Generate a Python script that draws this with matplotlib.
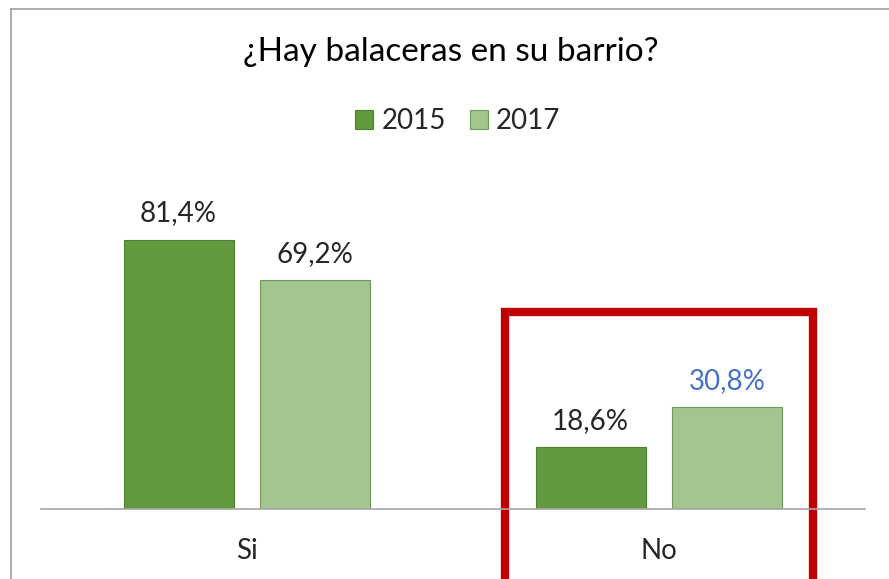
import matplotlib.pyplot as plt
from matplotlib.patches import Rectangle
from matplotlib.lines import Line2D
import numpy as np

# Datos del grafico
categorias = ["Si", "No"]
anios = ["2015", "2017"]
valores_2015 = [81.4, 18.6]
valores_2017 = [69.2, 30.8]

plt.rcParams['font.family'] = ['Lato', 'DejaVu Sans']

col_2015 = "#629A3E"
col_2017 = "#A4C490"
borde_2015 = "#4E7F30"
borde_2017 = "#6F9A56"
texto = "#262626"

fig = plt.figure(figsize=(8.89, 5.79), dpi=100)
ax = fig.add_axes([41 / 889, 70 / 579, 824 / 889, 331 / 579])

x = np.arange(len(categorias))
ancho = 0.267
desp = 0.166
b1 = ax.bar(x - desp, valores_2015, ancho, color=col_2015, edgecolor=borde_2015,
            linewidth=0.8, label=anios[0])
b2 = ax.bar(x + desp, valores_2017, ancho, color=col_2017, edgecolor=borde_2017,
            linewidth=0.8, label=anios[1])

# Etiquetas de datos
for barras in (b1, b2):
    for i, r in enumerate(barras):
        v = r.get_height()
        color = texto
        if barras is b2 and i == 1:
            color = "#4472C4"
        ax.annotate(f"{v:.1f}%".replace(".", ","),
                    (r.get_x() + r.get_width() / 2, v),
                    xytext=(0, 13), textcoords="offset points",
                    ha="center", va="baseline", fontsize=20, color=color)

ax.set_xlim(-0.5, 1.5)
ax.set_ylim(0, 100)
ax.set_xticks(x)
ax.set_xticklabels(categorias, fontsize=20, color=texto)
ax.tick_params(axis="x", length=0, pad=21)
ax.set_yticks([])
for s in ("top", "right", "left"):
    ax.spines[s].set_visible(False)
ax.spines["bottom"].set_color("#A6A6A6")
ax.spines["bottom"].set_linewidth(1.2)

# Recuadro rojo alrededor de "No"
ax.add_patch(Rectangle((1 - 0.374, -40), 0.748, 59.5 + 40, fill=False,
                       edgecolor="#C00000", linewidth=6, clip_on=False,
                       joinstyle="miter"))

# Titulo y leyenda
fig.text(451 / 889, 1 - 52 / 579, "¿Hay balaceras en su barrio?", ha="center",
         va="center", fontsize=24, color="black")
fig.legend(handles=[b1, b2], labels=anios, loc="center",
           bbox_to_anchor=(458 / 889, 1 - 121 / 579), ncol=2, frameon=False,
           fontsize=20, handlelength=0.65, handleheight=0.65, columnspacing=0.85,
           handletextpad=0.3, labelcolor=texto)

# Borde del area del grafico (gris)
fig.add_artist(Line2D([11 / 889, 11 / 889], [0, 1 - 9 / 579], color="#A0A0A0",
                      linewidth=1.2, transform=fig.transFigure))
fig.add_artist(Line2D([11 / 889, 1], [1 - 9 / 579, 1 - 9 / 579], color="#A0A0A0",
                      linewidth=1.2, transform=fig.transFigure))

fig.savefig("out.png", dpi=100)
